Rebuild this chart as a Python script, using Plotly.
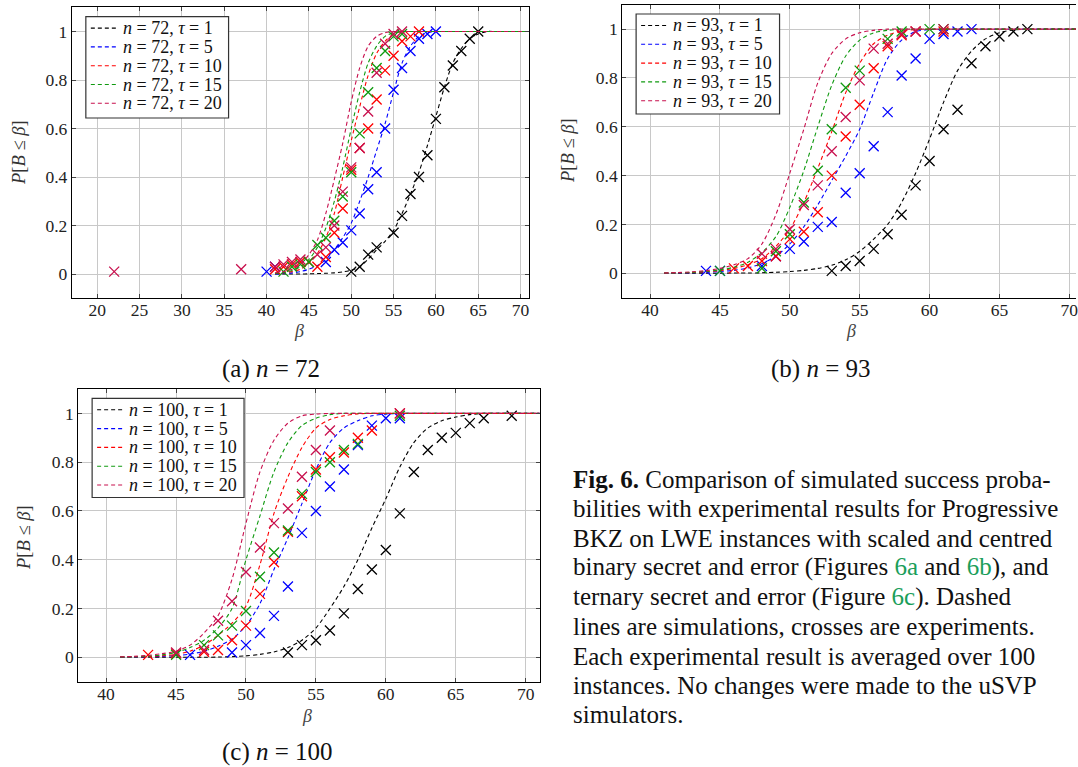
import plotly.graph_objects as go

W, H = 1078, 767

# ---------------- data ----------------
beta_sim = list(range(41, 72))  # simulated curves, beta = 41..71
taus = [1, 5, 10, 15, 20]

# panel (a) n = 72 : simulations
sim_a_t1 = [0, 0, 0, 0, 0.001, 0.002, 0.003, 0.005, 0.009, 0.016, 0.03, 0.062, 0.1, 0.135, 0.18,
            0.25, 0.33, 0.42, 0.53, 0.65, 0.77, 0.87, 0.93, 0.97, 0.99, 1, 1, 1, 1, 1, 1]
sim_a_t5 = [0, 0.002, 0.005, 0.01, 0.02, 0.035, 0.06, 0.10, 0.15, 0.21, 0.30, 0.40, 0.51, 0.62, 0.75,
            0.87, 0.94, 0.98, 0.995] + [1] * 12
sim_a_t10 = [0.002, 0.005, 0.01, 0.02, 0.045, 0.085, 0.15, 0.25, 0.40, 0.55, 0.69, 0.82, 0.91, 0.96,
             0.99] + [1] * 16
sim_a_t15 = [0.003, 0.007, 0.015, 0.03, 0.06, 0.11, 0.19, 0.30, 0.44, 0.60, 0.75, 0.87, 0.94, 0.98,
             0.995] + [1] * 16
sim_a_t20 = [0.005, 0.01, 0.02, 0.04, 0.08, 0.14, 0.25, 0.39, 0.54, 0.71, 0.85, 0.94, 0.98,
             0.995] + [1] * 17

# panel (a) experiments
exp_a_t1_b = [50, 51, 52, 53, 55, 56, 57, 58, 59, 60, 61, 62, 63, 64, 65]
exp_a_t1_p = [0.01, 0.03, 0.08, 0.11, 0.17, 0.24, 0.33, 0.40, 0.49, 0.64, 0.77, 0.86, 0.92, 0.97, 1.0]
exp_a_t5_b = [40, 41, 47, 48, 49, 50, 51, 52, 53, 54, 55, 56, 57, 58, 59, 60]
exp_a_t5_p = [0.01, 0.03, 0.05, 0.10, 0.13, 0.18, 0.25, 0.35, 0.42, 0.60, 0.76, 0.85, 0.92, 0.97, 0.99, 1.0]
exp_a_t10_b = [41, 42, 43, 44, 45, 46, 47, 48, 49, 50, 51, 52, 53, 54, 55, 56, 57, 58]
exp_a_t10_p = [0.02, 0.03, 0.04, 0.05, 0.05, 0.03, 0.07, 0.17, 0.27, 0.43, 0.52, 0.60, 0.72, 0.84, 0.90,
               0.96, 0.98, 1.0]
exp_a_t15_b = [42, 43, 44, 45, 46, 47, 48, 49, 50, 51, 52, 53, 54, 55, 56]
exp_a_t15_p = [0.01, 0.03, 0.04, 0.05, 0.12, 0.15, 0.22, 0.32, 0.42, 0.58, 0.75, 0.85, 0.92, 0.98, 0.99]
exp_a_t20_b = [22, 37, 41, 42, 43, 44, 46, 47, 48, 49, 50, 51, 52, 53, 54, 55, 56]
exp_a_t20_p = [0.01, 0.02, 0.03, 0.04, 0.05, 0.06, 0.08, 0.11, 0.20, 0.34, 0.44, 0.52, 0.67, 0.83, 0.95,
               0.99, 1.0]

# panel (b) n = 93 : simulations
sim_b_t1 = [0, 0, 0, 0, 0, 0.001, 0.001, 0.002, 0.004, 0.007, 0.012, 0.02, 0.033, 0.055, 0.09, 0.14,
            0.20, 0.29, 0.41, 0.55, 0.70, 0.83, 0.91, 0.96, 0.985, 0.997] + [1] * 5
sim_b_t5 = [0, 0.001, 0.002, 0.004, 0.007, 0.012, 0.022, 0.04, 0.07, 0.12, 0.19, 0.28, 0.38, 0.48, 0.59,
            0.74, 0.88, 0.955, 0.99, 0.998] + [1] * 11
sim_b_t10 = [0.001, 0.002, 0.003, 0.006, 0.011, 0.02, 0.035, 0.06, 0.11, 0.18, 0.29, 0.43, 0.58, 0.74,
             0.86, 0.94, 0.975, 0.992, 0.998] + [1] * 12
sim_b_t15 = [0.001, 0.002, 0.004, 0.008, 0.014, 0.025, 0.045, 0.085, 0.15, 0.27, 0.42, 0.60, 0.77, 0.89,
             0.955, 0.985, 0.995] + [1] * 14
sim_b_t20 = [0.001, 0.003, 0.006, 0.011, 0.02, 0.035, 0.06, 0.12, 0.24, 0.41, 0.59, 0.78, 0.90, 0.96,
             0.985, 0.995] + [1] * 15

# panel (b) experiments
exp_b_t1_b = [53, 54, 55, 56, 57, 58, 59, 60, 61, 62, 63, 64, 65, 66, 67]
exp_b_t1_p = [0.01, 0.03, 0.05, 0.10, 0.16, 0.24, 0.36, 0.46, 0.59, 0.67, 0.86, 0.93, 0.97, 0.99, 1.0]
exp_b_t5_b = [44, 45, 48, 49, 50, 51, 52, 53, 54, 55, 56, 57, 58, 59, 60, 61, 62, 63]
exp_b_t5_p = [0.01, 0.01, 0.03, 0.07, 0.10, 0.13, 0.19, 0.21, 0.33, 0.41, 0.52, 0.66, 0.81, 0.88, 0.96,
              0.98, 0.99, 1.0]
exp_b_t10_b = [46, 47, 48, 49, 50, 51, 52, 53, 54, 55, 56, 57, 58, 59, 61]
exp_b_t10_p = [0.02, 0.03, 0.05, 0.07, 0.14, 0.17, 0.25, 0.40, 0.56, 0.69, 0.84, 0.93, 0.975, 0.99, 0.99]
exp_b_t15_b = [45, 48, 49, 50, 51, 52, 53, 54, 55, 57, 58, 60, 61]
exp_b_t15_p = [0.01, 0.02, 0.09, 0.16, 0.29, 0.42, 0.59, 0.76, 0.83, 0.96, 0.99, 1.0, 1.0]
exp_b_t20_b = [48, 49, 50, 51, 52, 53, 54, 55, 56, 57, 58, 59, 61]
exp_b_t20_p = [0.08, 0.10, 0.18, 0.28, 0.36, 0.50, 0.64, 0.79, 0.92, 0.94, 0.98, 0.99, 1.0]

# panel (c) n = 100 : simulations
sim_c_t1 = [0, 0, 0, 0, 0, 0, 0, 0.001, 0.003, 0.006, 0.012, 0.022, 0.04, 0.07, 0.12, 0.20, 0.29, 0.40,
            0.53, 0.65, 0.78, 0.88, 0.94, 0.97, 0.985, 0.995] + [1] * 5
sim_c_t5 = [0, 0.001, 0.002, 0.004, 0.007, 0.013, 0.025, 0.045, 0.075, 0.13, 0.22, 0.36, 0.49, 0.63, 0.77,
            0.88, 0.94, 0.97, 0.99, 0.997] + [1] * 11
sim_c_t10 = [0.001, 0.002, 0.003, 0.006, 0.012, 0.025, 0.05, 0.09, 0.14, 0.21, 0.38, 0.59, 0.74, 0.86,
             0.94, 0.975, 0.99, 0.998] + [1] * 13
sim_c_t15 = [0.001, 0.002, 0.005, 0.01, 0.02, 0.04, 0.07, 0.12, 0.20, 0.40, 0.58, 0.76, 0.88, 0.95,
             0.98, 0.995] + [1] * 15
sim_c_t20 = [0.002, 0.004, 0.008, 0.015, 0.025, 0.05, 0.10, 0.17, 0.32, 0.55, 0.76, 0.89, 0.96, 0.99,
             0.997] + [1] * 16

# panel (c) experiments
exp_c_t1_b = [53, 54, 55, 56, 57, 58, 59, 60, 61, 62, 63, 64, 65, 66, 67, 69]
exp_c_t1_p = [0.02, 0.05, 0.07, 0.11, 0.18, 0.28, 0.36, 0.44, 0.59, 0.76, 0.85, 0.90, 0.92, 0.96, 0.98, 0.99]
exp_c_t5_b = [46, 49, 50, 51, 52, 53, 54, 55, 56, 57, 58, 59, 60, 61]
exp_c_t5_p = [0.01, 0.02, 0.05, 0.10, 0.17, 0.29, 0.51, 0.60, 0.70, 0.77, 0.87, 0.95, 0.98, 0.98]
exp_c_t10_b = [43, 45, 47, 48, 49, 50, 51, 52, 53, 54, 55, 56, 57, 58, 59, 61]
exp_c_t10_p = [0.01, 0.015, 0.023, 0.03, 0.07, 0.13, 0.26, 0.39, 0.515, 0.66, 0.77, 0.82, 0.84, 0.90, 0.93, 1.0]
exp_c_t15_b = [45, 47, 48, 49, 50, 51, 52, 53, 54, 55, 56, 57, 58, 61]
exp_c_t15_p = [0.01, 0.05, 0.09, 0.13, 0.19, 0.33, 0.43, 0.52, 0.67, 0.76, 0.80, 0.85, 0.875, 0.99]
exp_c_t20_b = [45, 47, 48, 49, 50, 51, 52, 53, 54, 55, 56, 61]
exp_c_t20_p = [0.02, 0.03, 0.15, 0.23, 0.35, 0.45, 0.55, 0.61, 0.74, 0.85, 0.93, 1.0]

x_ticks_a = [20, 25, 30, 35, 40, 45, 50, 55, 60, 65, 70]
x_ticks_bc = [40, 45, 50, 55, 60, 65, 70]
y_ticks = [0, 0.2, 0.4, 0.6, 0.8, 1]
y_tick_text = ["0", "0.2", "0.4", "0.6", "0.8", "1"]

colors = {1: "#000000", 5: "#0000ff", 10: "#ff0000", 15: "#109a10", 20: "#c8104e"}

panels = [
    dict(n=72, ax="",
         sims=[sim_a_t1, sim_a_t5, sim_a_t10, sim_a_t15, sim_a_t20],
         exps=[(exp_a_t1_b, exp_a_t1_p), (exp_a_t5_b, exp_a_t5_p), (exp_a_t10_b, exp_a_t10_p),
               (exp_a_t15_b, exp_a_t15_p), (exp_a_t20_b, exp_a_t20_p)],
         legend_box=(86, 16.6, 229, 118)),
    dict(n=93, ax="2",
         sims=[sim_b_t1, sim_b_t5, sim_b_t10, sim_b_t15, sim_b_t20],
         exps=[(exp_b_t1_b, exp_b_t1_p), (exp_b_t5_b, exp_b_t5_p), (exp_b_t10_b, exp_b_t10_p),
               (exp_b_t15_b, exp_b_t15_p), (exp_b_t20_b, exp_b_t20_p)],
         legend_box=(637.3, 14, 781, 114)),
    dict(n=100, ax="3",
         sims=[sim_c_t1, sim_c_t5, sim_c_t10, sim_c_t15, sim_c_t20],
         exps=[(exp_c_t1_b, exp_c_t1_p), (exp_c_t5_b, exp_c_t5_p), (exp_c_t10_b, exp_c_t10_p),
               (exp_c_t15_b, exp_c_t15_p), (exp_c_t20_b, exp_c_t20_p)],
         legend_box=(92.3, 398.3, 244.5, 497.5)),
]

SERIF = "Liberation Serif, DejaVu Serif, serif"
DASH = "4px,3px"

fig = go.Figure()
for p in panels:
    xa, ya = "x" + p["ax"], "y" + p["ax"]
    for tau, sim, (eb, ep) in zip(taus, p["sims"], p["exps"]):
        c = colors[tau]
        fig.add_trace(go.Scatter(
            x=beta_sim, y=sim, mode="lines", xaxis=xa, yaxis=ya, showlegend=False,
            name=f"n = {p['n']}, τ = {tau}",
            line=dict(color=c, width=1.1, dash=DASH, shape="spline", smoothing=0.8),
            hoverinfo="skip"))
        fig.add_trace(go.Scatter(
            x=eb, y=ep, mode="markers", xaxis=xa, yaxis=ya, showlegend=False,
            marker=dict(symbol="x-thin", size=10, color=c, line=dict(color=c, width=1.3))))


def px(x):
    return x / W


def py(y):
    return 1 - y / H


frames = {
    "": dict(x0=72, x1=530, y0=7.3, y1=298.3, xr=[17, 71], ticks=x_ticks_a),
    "2": dict(x0=623.3, x1=W, y0=4.7, y1=297.7, xr=[38, 38 + (W - 623.3) / 14.0], ticks=x_ticks_bc),
    "3": dict(x0=78.3, x1=540.7, y0=389, y1=681.7, xr=[38, 71], ticks=x_ticks_bc),
}

axis_common = dict(showgrid=True, gridcolor="#c8c8c8", gridwidth=1, zeroline=False,
                   showline=True, linecolor="#000000", linewidth=1,
                   ticks="inside", ticklen=4, tickcolor="#444444",
                   tickfont=dict(family=SERIF, size=17.5, color="#222222"))

lay = {}
for k, f in frames.items():
    lay["xaxis" + k] = dict(axis_common, domain=[px(f["x0"]), px(f["x1"])], range=f["xr"],
                            tickvals=f["ticks"], anchor="y" + k, mirror="ticks",
                            ticklabelstandoff=-4, ticklabeloverflow="allow")
    lay["yaxis" + k] = dict(axis_common, domain=[py(f["y1"]), py(f["y0"])], range=[-0.1, 1.1],
                            tickvals=y_ticks, ticktext=y_tick_text, anchor="x" + k,
                            mirror=("ticks" if k != "2" else False))

fig.update_layout(width=W, height=H, margin=dict(l=0, r=0, t=0, b=0, pad=0),
                  paper_bgcolor="white", plot_bgcolor="white", showlegend=False, **lay)

ann = []
shapes = []


def text(x, y, s, size, anchor="center", angle=0, color="#111111"):
    ann.append(dict(x=px(x), y=py(y), xref="paper", yref="paper", text=s, showarrow=False,
                    xanchor=anchor, yanchor="middle", textangle=angle,
                    font=dict(family=SERIF, size=size, color=color)))


# legends (drawn as boxed keys in each panel)
for p in panels:
    x0, y0, x1, y1 = p["legend_box"]
    shapes.append(dict(type="rect", xref="paper", yref="paper", x0=px(x0), x1=px(x1),
                       y0=py(y1), y1=py(y0), fillcolor="white",
                       line=dict(color="#333333", width=1.2), layer="above"))
    for i, tau in enumerate(taus):
        ry = y0 + 11.5 + i * 18.8
        shapes.append(dict(type="line", xref="paper", yref="paper", x0=px(x0 + 5), x1=px(x0 + 31),
                           y0=py(ry), y1=py(ry), layer="above",
                           line=dict(color=colors[tau], width=1.1, dash=DASH)))
        text(x0 + 35, ry, f"<i>n</i> = {p['n']}, <i>τ</i> = {tau}", 18, anchor="left")

# axis labels
text(300, 331, "<i>β</i>", 18, color="#444444")
text(853, 331, "<i>β</i>", 18, color="#444444")
text(308, 716, "<i>β</i>", 18, color="#444444")
ylab = "<i>P</i>[<i>B</i> ≤ <i>β</i>]"
text(19, 152, ylab, 18.5, angle=-90, color="#333333")
text(569, 150, ylab, 18.5, angle=-90, color="#333333")
text(24, 537, ylab, 18.5, angle=-90, color="#333333")

# sub-captions
text(272, 369, "(a) <i>n</i> = 72", 25)
text(823, 369, "(b) <i>n</i> = 93", 25)
text(278, 752, "(c) <i>n</i> = 100", 25)

# figure caption
G = "<span style='color:#1a9e5a'>"
caption_lines = [
    "<b>Fig. 6.</b> Comparison of simulated success proba-",
    "bilities with experimental results for Progressive",
    "BKZ on LWE instances with scaled and centred",
    f"binary secret and error (Figures {G}6a</span> and {G}6b</span>), and",
    f"ternary secret and error (Figure {G}6c</span>). Dashed",
    "lines are simulations, crosses are experiments.",
    "Each experimental result is averaged over 100",
    "instances. No changes were made to the uSVP",
    "simulators.",
]
caption_y = [479, 509, 538, 567, 597, 626, 656, 685, 714]
for s, y in zip(caption_lines, caption_y):
    text(572, y, s, 25, anchor="left")

fig.update_layout(annotations=ann, shapes=shapes)

fig.write_html("out.html", include_plotlyjs=True, config={"displayModeBar": False},
               post_script="document.body.style.margin='0';document.body.style.overflow='hidden';")
